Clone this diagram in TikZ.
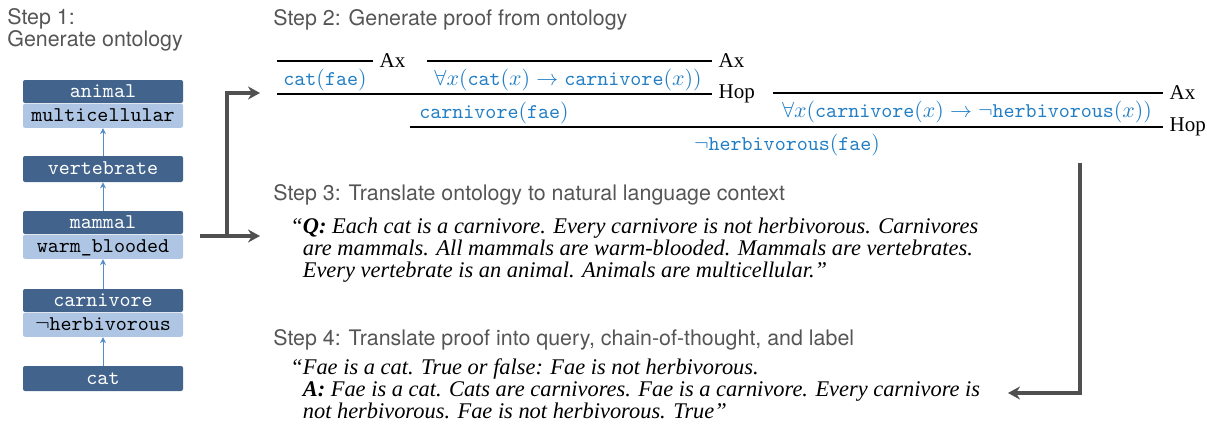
\documentclass[tikz,border=0pt]{standalone}
\usepackage{fontspec}
\setmainfont{Liberation Serif}
\newfontfamily\stepfont{TeX Gyre Heros}
\usepackage{amsmath}
\usepackage{tikz}
\usetikzlibrary{positioning,arrows.meta}

\definecolor{boxdark}{RGB}{66,100,140}
\definecolor{boxlight}{RGB}{174,197,228}
\definecolor{proofblue}{RGB}{34,126,196}
\definecolor{linkblue}{RGB}{84,140,200}
\definecolor{stepgray}{RGB}{85,85,85}
\definecolor{flowgray}{RGB}{80,80,80}

\begin{document}
\begin{tikzpicture}[x=0.5pt,y=-0.5pt,
  darkbox/.style={fill=boxdark,text=white,rounded corners=1pt,inner sep=0pt,
    minimum width=80pt,minimum height=11.5pt,text height=1.5ex,text depth=.3ex,
    font=\ttfamily\fontsize{10.5}{12}\selectfont},
  lightbox/.style={darkbox,fill=boxlight,text=black,minimum height=12pt},
  linkarrow/.style={-{Stealth[length=3pt,width=3pt]},draw=linkblue,line width=0.5pt},
  flowarrow/.style={-{Stealth[length=6pt,width=6.5pt,inset=2pt]},draw=flowgray,line width=1.7pt},
  steplabel/.style={anchor=west,inner sep=0pt,text=stepgray,align=left,
    font=\stepfont\fontsize{10.7}{11}\selectfont},
  formula/.style={inner sep=0pt,text=proofblue,font=\fontsize{10.5}{12}\selectfont},
  ruleline/.style={line width=0.6pt},
  rulename/.style={anchor=west,inner sep=0pt,xshift=3pt,font=\fontsize{10.5}{12}\selectfont},
  nltext/.style={anchor=north west,inner sep=0pt,align=left,
    font=\itshape\fontsize{11.2}{11}\selectfont}]
\useasboundingbox (0,0) rectangle (1207,428);

% step 1: ontology
\node[steplabel,anchor=north west] (step1) at (7,8) {Step 1:\\Generate ontology};

\node[darkbox] (animal) at (103,91.5) {animal};
\node[lightbox,below=0pt of animal] (multi) {multicellular};
\node[darkbox,minimum height=13pt] (vert) at (103,169) {vertebrate};
\node[darkbox] (mammal) at (103,222.5) {mammal};
\node[lightbox,below=0pt of mammal] (warm) {warm\_blooded};
\node[darkbox] (carn) at (103,300.5) {carnivore};
\node[lightbox,below=0pt of carn] (herb) {$\neg$herbivorous};
\node[darkbox,minimum height=12.5pt] (cat) at (103,378.5) {cat};

\foreach \a/\b in {cat/herb,carn/warm,mammal/vert,vert/multi}
  \draw[linkarrow] (\a) -- (\b);

% arrows out of the ontology
\coordinate (src) at (200,236);
\coordinate (fork) at (227,236);
\coordinate (toproof) at (260,93);
\coordinate (toctx) at (260,236);
\draw[flowarrow] (src) -- (toctx);
\draw[flowarrow] (fork) |- (toproof);

% step 2: proof
\node[steplabel] (step2) at (273,20) {Step 2: Generate proof from ontology};

\node[formula] (f1) at (325,80) {$\mathtt{cat}(\mathtt{fae})$};
\node[formula] (f2) at (568,80) {$\forall x(\mathtt{cat}(x)\rightarrow\mathtt{carnivore}(x))$};
\node[formula] (f3) at (494,113) {$\mathtt{carnivore}(\mathtt{fae})$};
\node[formula] (f4) at (967,112) {$\forall x(\mathtt{carnivore}(x)\rightarrow\neg\mathtt{herbivorous}(x))$};
\node[formula] (f5) at (787,145) {$\neg\mathtt{herbivorous}(\mathtt{fae})$};

\draw[ruleline] (277,61) -- (373,61) node[rulename] {Ax};
\draw[ruleline] (427,61) -- (712,61) node[rulename] {Ax};
\draw[ruleline] (277,94) -- (712,94) node[rulename] {Hop};
\draw[ruleline] (773,93) -- (1163,93) node[rulename] {Ax};
\draw[ruleline] (410,127) -- (1163,127) node[rulename] {Hop};

% step 3: context
\node[steplabel] (step3) at (273,195) {Step 3: Translate ontology to natural language context};
\node[nltext] (ctx) at (290,218) {“\textbf{Q:} Each cat is a carnivore. Every carnivore is not herbivorous. Carnivores\\
\phantom{“}are mammals. All mammals are warm-blooded. Mammals are vertebrates.\\
\phantom{“}Every vertebrate is an animal. Animals are multicellular.”};

% step 4: query and answer
\node[steplabel] (step4) at (273,340) {Step 4: Translate proof into query, chain-of-thought, and label};
\node[nltext] (qa) at (290,358) {“Fae is a cat. True or false: Fae is not herbivorous.\\
\phantom{“}\textbf{A:} Fae is a cat. Cats are carnivores. Fae is a carnivore. Every carnivore is\\
\phantom{“}not herbivorous. Fae is not herbivorous. True”};

\coordinate (fromproof) at (1080,163);
\coordinate (toqa) at (1008,393);
\draw[flowarrow] (fromproof) |- (toqa);
\end{tikzpicture}
\end{document}
